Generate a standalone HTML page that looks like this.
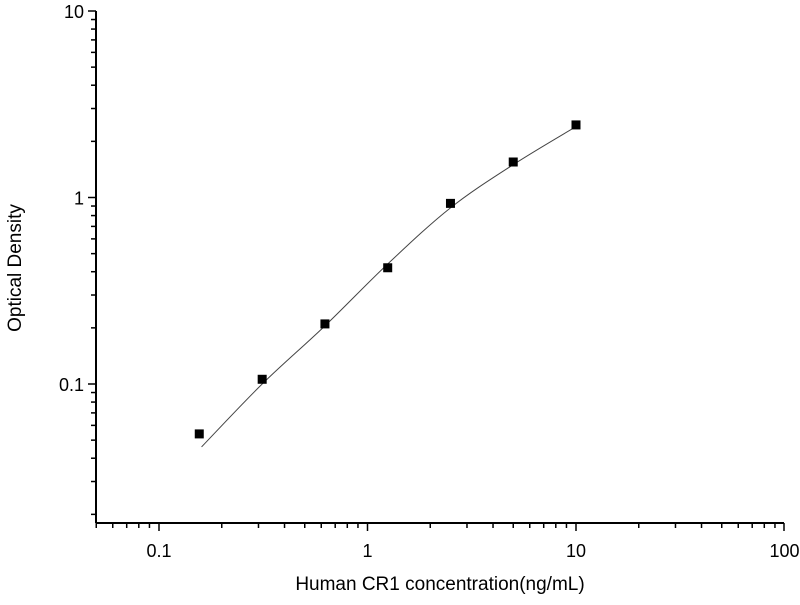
<!DOCTYPE html>
<html><head><meta charset="utf-8"><style>
body{margin:0;background:#fff}
svg text{font-family:"Liberation Sans",Arial,sans-serif;fill:#000}
</style></head><body>
<svg id="s" width="800" height="600" xmlns="http://www.w3.org/2000/svg"></svg>
<script>
const s=document.getElementById('s');
const X0=96,X1=784,Y0=11,Y1=523;
const xd=208.5,x01=159,yd=186.5,y01=384;
const px=v=>x01+(Math.log10(v)+1)*xd;
const py=v=>y01-(Math.log10(v)+1)*yd;
let h='';
h+=`<line x1="${X0}" y1="${Y0}" x2="${X0}" y2="${Y1}" stroke="#000" stroke-width="2"/>`;
h+=`<line x1="${X0}" y1="${Y1}" x2="${X1}" y2="${Y1}" stroke="#000" stroke-width="2"/>`;
for(let d=-2;d<=1;d++)for(let m=1;m<10;m++){const v=m*Math.pow(10,d);const x=px(v);if(x<X0-1||x>X1+1)continue;
 h+=`<line x1="${x}" y1="${Y1}" x2="${x}" y2="${Y1+(m==1?8:5)}" stroke="#000" stroke-width="1.5"/>`;}
h+=`<line x1="${X1}" y1="${Y1}" x2="${X1}" y2="${Y1+8}" stroke="#000" stroke-width="1.5"/>`;
[[0.1,'0.1'],[1,'1'],[10,'10'],[100,'100']].forEach(([v,t])=>h+=`<text x="${px(v)}" y="${Y1+34}" font-size="18" text-anchor="middle">${t}</text>`);
for(let d=-2;d<=1;d++)for(let m=1;m<10;m++){const v=m*Math.pow(10,d);const y=py(v);if(y<Y0-1||y>Y1+1)continue;
 h+=`<line x1="${X0}" y1="${y}" x2="${X0-(m==1?8:5)}" y2="${y}" stroke="#000" stroke-width="1.5"/>`;}
[[0.1,'0.1'],[1,'1'],[10,'10']].forEach(([v,t])=>h+=`<text x="${X0-12}" y="${py(v)+7}" font-size="18" text-anchor="end">${t}</text>`);
const cp=[[0.16,0.046],[0.3125,0.1],[0.625,0.205],[1.25,0.44],[2.5,0.88],[5,1.5],[10,2.4]].map(([a,b])=>[px(a),py(b)]);
let d=`M${cp[0][0]},${cp[0][1]}`;
for(let i=0;i<cp.length-1;i++){const p0=cp[Math.max(i-1,0)],p1=cp[i],p2=cp[i+1],p3=cp[Math.min(i+2,cp.length-1)];
 d+=` C${p1[0]+(p2[0]-p0[0])/6},${p1[1]+(p2[1]-p0[1])/6} ${p2[0]-(p3[0]-p1[0])/6},${p2[1]-(p3[1]-p1[1])/6} ${p2[0]},${p2[1]}`;}
h+=`<path d="${d}" fill="none" stroke="#444" stroke-width="1"/>`;
[[0.156,0.054],[0.3125,0.106],[0.625,0.21],[1.25,0.42],[2.5,0.93],[5,1.55],[10,2.45]].forEach(([a,b])=>h+=`<rect x="${px(a)-4.5}" y="${py(b)-4.5}" width="9" height="9" fill="#000"/>`);
h+=`<text x="440" y="590" font-size="19" text-anchor="middle">Human CR1 concentration(ng/mL)</text>`;
h+=`<text transform="translate(21,268) rotate(-90)" font-size="19" text-anchor="middle">Optical Density</text>`;
s.innerHTML=h;
</script>
</body></html>
